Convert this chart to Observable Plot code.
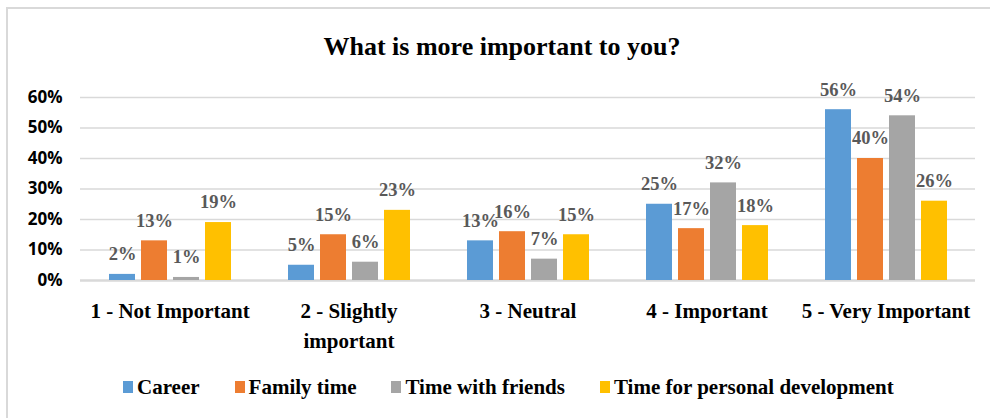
<!DOCTYPE html>
<html><head><meta charset="utf-8">
<script src="https://cdn.jsdelivr.net/npm/d3@7"></script>
<script src="https://cdn.jsdelivr.net/npm/@observablehq/plot@0.6"></script>
<style>
body{margin:0;background:#fff;}
#wrap{position:relative;width:990px;height:418px;overflow:hidden;background:#fff;}
#frame{position:absolute;left:6px;top:7px;width:1000px;height:430px;border:2px solid #d9d9d9;box-sizing:border-box;}
#title{position:absolute;left:0;width:1004px;top:33px;text-align:center;font-family:"Liberation Serif",serif;font-weight:bold;font-size:26px;line-height:28px;color:#000;}
#chart{position:absolute;left:0;top:60px;}
#legend{position:absolute;left:123px;top:374px;display:flex;align-items:center;font-family:"Liberation Serif",serif;font-weight:bold;font-size:21px;line-height:26px;color:#000;}
.item{display:flex;align-items:center;margin-right:35px;}
.sw{width:10px;height:12px;margin-right:4px;}
</style></head>
<body><div id="wrap"><div id="frame"></div><div id="title">What is more important to you?</div><div id="chart"></div><div id="legend"></div></div>
<script>
const categories = ["1 - Not Important", "2 - Slightly\nimportant", "3 - Neutral", "4 - Important", "5 - Very Important"];
const series = ["Career", "Family time", "Time with friends", "Time for personal development"];
const colors = ["#5B9BD5", "#ED7D31", "#A5A5A5", "#FFC000"];
const career = [2, 5, 13, 25, 56];
const familyTime = [13, 15, 16, 17, 40];
const timeWithFriends = [1, 6, 7, 32, 54];
const personalDevelopment = [19, 23, 15, 18, 26];
const yTicks = [0, 0.1, 0.2, 0.3, 0.4, 0.5, 0.6];

const seriesValues = [career, familyTime, timeWithFriends, personalDevelopment];
const data = [];
categories.forEach((c, i) => series.forEach((s, j) => data.push({cat: c, series: s, value: seriesValues[j][i] / 100, label: seriesValues[j][i] + "%"})));

const serif = "Liberation Serif";
const chart = Plot.plot({
  width: 990, height: 300,
  marginLeft: 78, marginRight: 14, marginTop: 37, marginBottom: 80,
  style: {background: "transparent", overflow: "visible", fontFamily: serif},
  fx: {domain: categories, padding: 0, label: null},
  x: {domain: series, paddingInner: 0.2, paddingOuter: 0.86, axis: null},
  y: {domain: [0, 0.6], label: null},
  color: {domain: series, range: colors},
  marks: [
    Plot.gridY(yTicks.slice(1), {stroke: "#d9d9d9", strokeOpacity: 1, strokeWidth: 1.5}),
    Plot.ruleY([0], {stroke: "#d9d9d9", strokeWidth: 2.5}),
    Plot.axisY(yTicks, {tickSize: 0, tickPadding: 18, tickFormat: d => Math.round(d * 100) + "%", fontWeight: "bold", fontSize: 17, fill: "#000", label: null}),
    Plot.axisFx({anchor: "bottom", tickSize: 0, tickPadding: 17, fontWeight: "bold", fontSize: 21, lineHeight: 1.4, fill: "#000", label: null}),
    Plot.barY(data, {fx: "cat", x: "series", y: "value", fill: "series"}),
    Plot.text(data, {fx: "cat", x: "series", y: "value", text: "label", dy: -20, fontWeight: "bold", fontSize: 18.5, fill: "#595959"})
  ]
});
chart.querySelectorAll('g[aria-label="y-axis tick label"]').forEach(g => g.setAttribute("font-family", "Open Sans"));
document.getElementById("chart").appendChild(chart);

const legend = document.getElementById("legend");
series.forEach((s, i) => {
  const it = document.createElement("div"); it.className = "item";
  const sw = document.createElement("div"); sw.className = "sw"; sw.style.background = colors[i];
  const t = document.createElement("span"); t.textContent = s;
  it.appendChild(sw); it.appendChild(t); legend.appendChild(it);
});
</script></body></html>
